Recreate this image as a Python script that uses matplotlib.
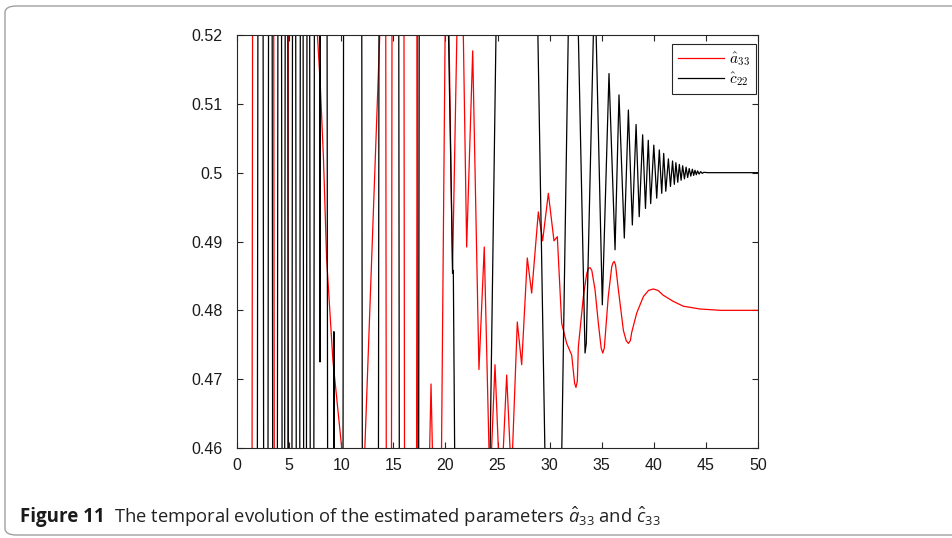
import matplotlib
matplotlib.use("Agg")
import matplotlib.pyplot as plt
from matplotlib.patches import FancyBboxPatch

# ---------------- data ----------------
black_t = [0, 1.94, 2.02, 2.49, 2.57, 2.96, 3.04, 3.36, 3.44, 3.86, 3.94, 4.26, 4.34,
           4.56, 4.64, 4.86, 4.94, 5.26, 5.34, 5.62, 5.70, 6.01, 6.09, 6.33, 6.41,
           6.65, 6.73, 6.96, 7.04, 7.36, 7.44, 7.93, 7.97, 8.01, 8.63, 8.71, 9.26,
           9.30, 9.34, 10.16, 10.24, 11.96, 12.04, 13.56, 13.64, 15.51, 15.59, 17.42,
           17.50, 20.24, 20.70, 20.76, 20.96, 24.25, 24.90, 28.82, 29.60, 31.12, 31.84,
           32.30, 32.76, 33.40, 33.52, 34.20, 34.45, 35.06, 35.70, 36.28, 36.66, 37.17,
           37.56, 37.94, 38.30, 38.60, 38.93, 39.20, 39.47, 39.70, 40.00, 40.28, 40.53,
           40.76, 40.95, 41.15, 41.40, 41.60, 41.80, 41.97, 42.12, 42.30, 42.45, 42.62,
           42.77, 42.94, 43.10, 43.25, 43.40, 43.55, 43.70, 43.83, 43.95, 44.08, 44.20,
           44.35, 44.50, 44.65, 44.80, 45.20, 50.0]
black_v = [0.44, 0.44, 0.54, 0.54, 0.44, 0.44, 0.54, 0.54, 0.44, 0.44, 0.54, 0.54, 0.44,
           0.44, 0.54, 0.54, 0.44, 0.44, 0.54, 0.54, 0.44, 0.44, 0.54, 0.54, 0.44,
           0.44, 0.54, 0.54, 0.44, 0.44, 0.54, 0.54, 0.4725, 0.54, 0.54, 0.44, 0.44,
           0.4769, 0.44, 0.44, 0.54, 0.54, 0.44, 0.44, 0.54, 0.54, 0.44, 0.44,
           0.54, 0.525, 0.4854, 0.4858, 0.445, 0.455, 0.525, 0.525, 0.455, 0.455, 0.525,
           0.54, 0.52, 0.4738, 0.4752, 0.52, 0.5212, 0.4808, 0.5144, 0.4888, 0.5113, 0.4905,
           0.5091, 0.4924, 0.5070, 0.4936, 0.5055, 0.4948, 0.5047, 0.4955, 0.5040, 0.4963, 0.5033,
           0.4970, 0.5028, 0.4973, 0.5020, 0.4980, 0.5017, 0.4983, 0.50145, 0.4986, 0.5012, 0.4989,
           0.5010, 0.4991, 0.5008, 0.4993, 0.5006, 0.4995, 0.5005, 0.4996, 0.50035, 0.4997, 0.50025,
           0.4998, 0.50015, 0.4999, 0.50005, 0.5, 0.5]

red_t = [0, 1.43, 1.51, 3.51, 3.59, 4.86, 4.94, 7.40, 7.72, 8.00, 8.30, 8.60, 9.20,
         10.05, 10.20, 12.15, 13.70, 13.85, 14.26, 14.34, 14.81, 14.89, 16.01, 16.09,
         17.22, 17.30, 17.38, 18.42, 18.62, 18.82, 19.60, 20.00, 20.15, 20.35, 20.68,
         21.10, 21.30, 21.55, 21.72, 22.04, 22.62, 23.22, 23.73, 24.18, 24.30, 24.76,
         25.08, 25.20, 25.45, 25.56, 25.88, 26.20, 26.32, 26.45, 26.90, 27.32, 27.86,
         28.28, 28.92, 29.33, 29.88, 30.42, 30.74, 31.16, 31.64, 32.12, 32.40, 32.53, 32.66,
         32.76, 33.24, 33.56, 33.72, 33.88, 34.05, 34.36, 34.68, 34.95, 35.10, 35.25,
         35.63, 35.96, 36.08, 36.20, 36.33, 36.60, 37.08, 37.35, 37.56, 37.75, 37.88,
         38.36, 39.00, 39.50, 39.95, 40.40, 40.90, 41.87, 42.83, 44.40, 46.40, 50.0]
red_v = [0.44, 0.44, 0.54, 0.54, 0.44, 0.44, 0.54, 0.545, 0.52, 0.5125, 0.502, 0.4875, 0.4728,
         0.46, 0.455, 0.455, 0.52, 0.525, 0.54, 0.44, 0.44, 0.54, 0.54, 0.44,
         0.44, 0.54, 0.44, 0.455, 0.4693, 0.455, 0.455, 0.525, 0.535, 0.52, 0.4854,
         0.52, 0.535, 0.535, 0.52, 0.4892, 0.5177, 0.4714, 0.4892, 0.46, 0.455, 0.4721,
         0.46, 0.456, 0.456, 0.46, 0.4706, 0.46, 0.457, 0.46, 0.4783, 0.4721, 0.4876,
         0.4825, 0.4943, 0.4901, 0.4970, 0.4901, 0.4907, 0.4781, 0.4752, 0.4735, 0.4694, 0.4688, 0.4697,
         0.4747, 0.4820, 0.4853, 0.4861, 0.4862, 0.4858, 0.4830, 0.4781, 0.4745, 0.4738, 0.4745,
         0.4820, 0.4863, 0.4869, 0.4871, 0.4866, 0.4830, 0.4771, 0.4756, 0.4752, 0.4756, 0.4768,
         0.4796, 0.4820, 0.4829, 0.4831, 0.4829, 0.4822, 0.4813, 0.4806, 0.4802, 0.48, 0.48]

x_ticks = [0, 5, 10, 15, 20, 25, 30, 35, 40, 45, 50]
y_ticks = [0.46, 0.47, 0.48, 0.49, 0.50, 0.51, 0.52]
y_ticklabels = ["0.46", "0.47", "0.48", "0.49", "0.5", "0.51", "0.52"]
legend_labels = [r"$\hat{a}_{33}$", r"$\hat{c}_{22}$"]
caption_bold = "Figure 11"
caption_text = r"The temporal evolution of the estimated parameters $\hat{a}_{33}$ and $\hat{c}_{33}$"

# ---------------- figure ----------------
W, H = 953, 538
plt.rcParams["mathtext.fontset"] = "custom"
plt.rcParams["mathtext.rm"] = "Open Sans"
plt.rcParams["mathtext.it"] = "Open Sans:italic"
plt.rcParams["mathtext.bf"] = "Open Sans:bold"

fig = plt.figure(figsize=(W / 100, H / 100), dpi=100)
fig.patch.set_facecolor("white")

# rounded frame
frame = FancyBboxPatch((5 / W, 3 / H), 1.2, (532 - 3) / H,
                       boxstyle="round,pad=0,rounding_size=0.012",
                       transform=fig.transFigure, fill=False,
                       edgecolor="#a0a0a0", linewidth=1.0)
fig.patches.append(frame)

ax = fig.add_axes([237 / W, 1 - 448 / H, (758 - 237) / W, (448 - 35) / H])
axcol = "#262626"
l1, = ax.plot(red_t, red_v, color="#ff0000", lw=0.9, label=legend_labels[0])
l2, = ax.plot(black_t, black_v, color="#000000", lw=0.9, label=legend_labels[1])

ax.set_xlim(0, 50)
ax.set_ylim(0.46, 0.52)
ax.set_xticks(x_ticks)
ax.set_xticklabels([str(v) for v in x_ticks])
ax.set_yticks(y_ticks)
ax.set_yticklabels(y_ticklabels)
for s in ax.spines.values():
    s.set_color(axcol)
    s.set_linewidth(0.8)
ax.tick_params(direction="in", length=4.5, width=0.8, color=axcol,
               top=True, right=True, labelsize=11.5, labelcolor="#1a1a1a")
ax.tick_params(axis="y", pad=10.5)
ax.tick_params(axis="x", pad=7)
for lab in ax.get_xticklabels() + ax.get_yticklabels():
    lab.set_fontfamily("Liberation Sans")

leg = ax.legend(loc="upper right", bbox_to_anchor=(0.996, 0.978), borderaxespad=0,
                prop=dict(size=11, math_fontfamily="cm"), handlelength=3.0,
                handletextpad=0.3, borderpad=0.4, labelspacing=0.15,
                fancybox=False, framealpha=1, edgecolor="#262626")
leg.get_frame().set_linewidth(0.8)

fig.text(20 / W, 1 - 517 / H, caption_bold, fontsize=13.5, fontweight="bold",
         family="Open Sans", va="center", ha="left", color="#1a1a1a")
fig.text(114 / W, 1 - 517 / H, caption_text, fontsize=13.2, family="Open Sans",
         va="center", ha="left", color="#222222", math_fontfamily="custom")

fig.savefig("out.png", dpi=100, facecolor="white")
